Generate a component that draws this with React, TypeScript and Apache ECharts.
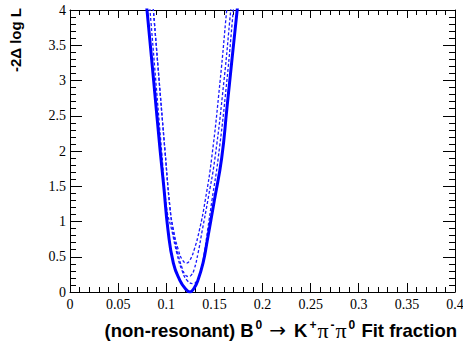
import React, { useEffect, useRef } from "react";
import * as echarts from "echarts";

const xTicks = [0, 0.05, 0.1, 0.15, 0.2, 0.25, 0.3, 0.35, 0.4];
const yTicks = [0, 0.5, 1, 1.5, 2, 2.5, 3, 3.5, 4];
const xTickLabels = ["0", "0.05", "0.1", "0.15", "0.2", "0.25", "0.3", "0.35", "0.4"];
const yTickLabels = ["0", "0.5", "1", "1.5", "2", "2.5", "3", "3.5", "4"];

// Nominal fit (solid, thick)
const nominalX = [0.0793, 0.08, 0.0869, 0.0937, 0.0974, 0.1018, 0.1074, 0.114, 0.1197, 0.1247, 0.1287, 0.133, 0.1382, 0.1425, 0.15, 0.1576, 0.163, 0.1683, 0.1737, 0.1744];
const nominalY = [4.1, 4.0, 3.0, 2.0, 1.5, 0.88, 0.41, 0.17, 0.05, 0.0, 0.05, 0.17, 0.41, 0.72, 1.3, 1.9, 2.6, 3.3, 4.0, 4.1];

// Alternative fits (dashed)
const altAX = [0.0859, 0.0866, 0.0926, 0.0987, 0.1039, 0.1075, 0.1125, 0.117, 0.121, 0.1245, 0.129, 0.1345, 0.1405, 0.1472, 0.156, 0.1628, 0.1635];
const altAY = [4.1, 4.0, 3.0, 2.0, 1.19, 0.88, 0.6, 0.45, 0.41, 0.45, 0.6, 0.88, 1.3, 1.9, 3.0, 4.0, 4.1];
const altBX = [0.0859, 0.0866, 0.0926, 0.0987, 0.1039, 0.107, 0.112, 0.117, 0.12, 0.123, 0.126, 0.129, 0.133, 0.1375, 0.1432, 0.1506, 0.16, 0.167, 0.1677];
const altBY = [4.1, 4.0, 3.0, 2.0, 1.19, 0.88, 0.55, 0.32, 0.24, 0.22, 0.24, 0.32, 0.55, 0.88, 1.3, 1.9, 3.0, 4.0, 4.1];
const altCX = [0.0824, 0.0831, 0.0891, 0.0952, 0.1004, 0.1057, 0.111, 0.1165, 0.122, 0.128, 0.132, 0.136, 0.1395, 0.143, 0.1475, 0.154, 0.163, 0.1697, 0.1704];
const altCY = [4.1, 4.0, 3.0, 2.0, 1.19, 0.88, 0.55, 0.3, 0.16, 0.12, 0.16, 0.3, 0.55, 0.88, 1.3, 1.9, 3.0, 4.0, 4.1];

const xTitleRich = "{b|(non-resonant) B}{s|0}{a|\u2192}{b|K}{s|+}{g|\u03C0}{s|-}{g|\u03C0}{s|0}{b| Fit fraction}";
const yTitle = "-2\u0394 log L";

const zip = (xs: number[], ys: number[]) => xs.map((x, i) => [x, ys[i]]);

export default function App() {
  const ref = useRef<HTMLDivElement>(null);
  useEffect(() => {
    if (!ref.current) return;
    const chart = echarts.init(ref.current, null, { renderer: "svg" });
    const sans = "Liberation Sans";
    const labelFont = "14px Liberation Serif";
    const baseX = {
      type: "value" as const,
      min: xTicks[0],
      max: xTicks[xTicks.length - 1],
      interval: 0.05,
      splitLine: { show: false },
      axisLabel: { show: false },
      axisLine: { show: true, onZero: false, lineStyle: { color: "#000", width: 1 } },
      minorTick: { show: true, splitNumber: 5, length: 5, lineStyle: { color: "#000" } },
    };
    const baseY = {
      type: "value" as const,
      min: yTicks[0],
      max: yTicks[yTicks.length - 1],
      interval: 0.5,
      splitLine: { show: false },
      axisLabel: { show: false },
      axisLine: { show: true, onZero: false, lineStyle: { color: "#000", width: 1 } },
      minorTick: { show: true, splitNumber: 5, length: 6, lineStyle: { color: "#000" } },
    };
    const dashed = (xs: number[], ys: number[]) => ({
      type: "line" as const,
      data: zip(xs, ys),
      smooth: 0.5,
      showSymbol: false,
      symbol: "none",
      lineStyle: { color: "#1a1aff", width: 1.3, type: [3, 2] as any },
      clip: true,
      z: 2,
    });
    const titles: any[] = [
      {
        id: "xtitle",
        type: "text",
        x: 457,
        y: 330,
        style: {
          text: xTitleRich,
          fill: "#000",
          textAlign: "right",
          textVerticalAlign: "middle",
          rich: {
            b: { fontFamily: sans, fontWeight: "bold", fontSize: 18.5, lineHeight: 22, fill: "#000" },
            s: { fontFamily: sans, fontWeight: "bold", fontSize: 12, verticalAlign: "top", fill: "#000", padding: [0, 1, 0, 2] },
            a: { fontFamily: "DejaVu Sans", fontSize: 20, lineHeight: 22, fill: "#000", padding: [0, 8, 0, 6] },
            g: { fontFamily: "serif", fontSize: 22, lineHeight: 22, fill: "#000" },
          },
        },
      },
      {
        id: "ytitle",
        type: "text",
        x: 15,
        y: 8,
        rotation: Math.PI / 2,
        style: {
          text: yTitle,
          fill: "#000",
          font: `bold 15px ${sans}`,
          textAlign: "right",
          textVerticalAlign: "middle",
        },
      },
    ];
    chart.setOption({
      animation: false,
      backgroundColor: "#fff",
      grid: { left: 70, top: 10, right: 8, bottom: 58, containLabel: false },
      xAxis: [
        { ...baseX, position: "bottom", axisTick: { show: true, inside: true, length: 9, lineStyle: { color: "#000" } } },
        { ...baseX, position: "top", axisTick: { show: true, inside: true, length: 8, lineStyle: { color: "#000" } } },
      ],
      yAxis: [
        { ...baseY, position: "left", axisTick: { show: true, inside: true, length: 12, lineStyle: { color: "#000" } } },
        { ...baseY, position: "right", axisTick: { show: true, inside: true, length: 12, lineStyle: { color: "#000" } } },
      ],
      graphic: titles,
      series: [
        dashed(altAX, altAY),
        dashed(altBX, altBY),
        dashed(altCX, altCY),
        {
          type: "line",
          data: zip(nominalX, nominalY),
          smooth: 0.5,
          showSymbol: false,
          symbol: "none",
          lineStyle: { color: "#0000ff", width: 3 },
          clip: true,
          z: 3,
        },
      ],
    });

    // Tick labels placed through the axes' own scales (serif font via shorthand)
    const x0 = chart.convertToPixel({ xAxisIndex: 0 }, xTicks[0]) as number;
    const y0 = chart.convertToPixel({ yAxisIndex: 0 }, yTicks[0]) as number;
    const labels: any[] = [];
    xTicks.forEach((v, i) => {
      const px = chart.convertToPixel({ xAxisIndex: 0 }, v) as number;
      labels.push({
        id: "xl" + i,
        type: "text",
        x: px,
        y: y0 + 5,
        style: { text: xTickLabels[i], font: labelFont, fill: "#000", textAlign: "center", textVerticalAlign: "top" },
      });
    });
    yTicks.forEach((v, i) => {
      const py = chart.convertToPixel({ yAxisIndex: 0 }, v) as number;
      labels.push({
        id: "yl" + i,
        type: "text",
        x: x0 - 4,
        y: py,
        style: { text: yTickLabels[i], font: labelFont, fill: "#000", textAlign: "right", textVerticalAlign: "middle" },
      });
    });
    chart.setOption({ graphic: [...titles, ...labels] });
    return () => chart.dispose();
  }, []);
  return <div ref={ref} style={{ width: 463, height: 350, position: "absolute", left: 0, top: 0 }} />;
}
